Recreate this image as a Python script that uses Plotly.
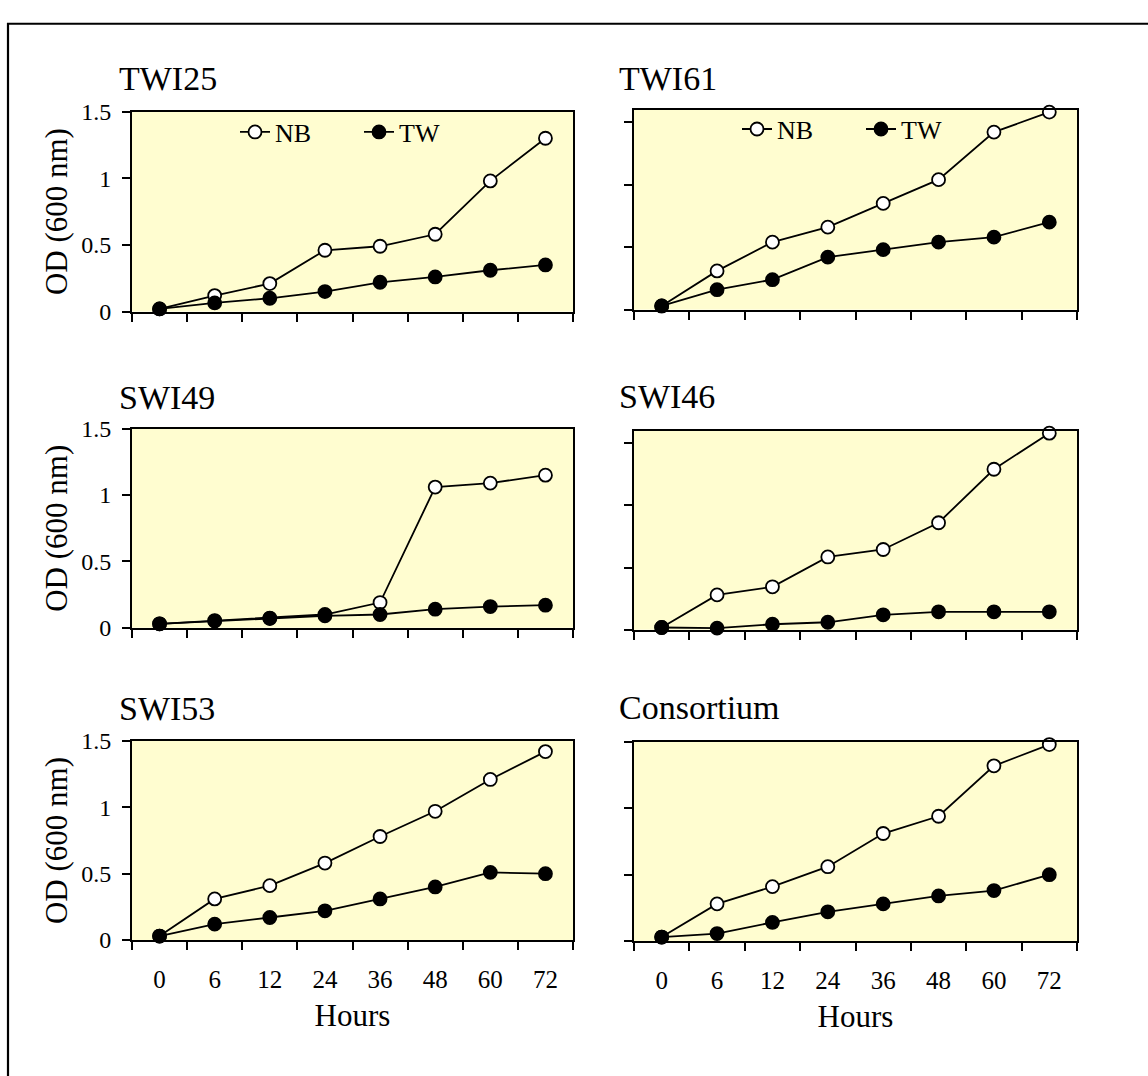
import plotly.graph_objects as go

# Sampling times (hours) shown as evenly spaced categories
hours = ["0", "6", "12", "24", "36", "48", "60", "72"]

panel_names = ["TWI25", "TWI61", "SWI49", "SWI46", "SWI53", "Consortium"]

# Optical density at 600 nm, nutrient broth (NB) vs. treated water (TW)
twi25_nb = [0.02, 0.12, 0.21, 0.46, 0.49, 0.58, 0.98, 1.30]
twi25_tw = [0.02, 0.065, 0.10, 0.15, 0.22, 0.26, 0.31, 0.35]

twi61_nb = [0.03, 0.31, 0.54, 0.66, 0.85, 1.04, 1.42, 1.58]
twi61_tw = [0.03, 0.16, 0.24, 0.42, 0.48, 0.54, 0.58, 0.70]

swi49_nb = [0.03, 0.054, 0.073, 0.10, 0.19, 1.06, 1.09, 1.15]
swi49_tw = [0.03, 0.05, 0.07, 0.09, 0.10, 0.14, 0.16, 0.17]

swi46_nb = [0.018, 0.28, 0.345, 0.585, 0.645, 0.86, 1.29, 1.58]
swi46_tw = [0.018, 0.013, 0.044, 0.06, 0.12, 0.144, 0.144, 0.144]

swi53_nb = [0.03, 0.31, 0.41, 0.58, 0.78, 0.97, 1.21, 1.42]
swi53_tw = [0.03, 0.12, 0.17, 0.22, 0.31, 0.40, 0.51, 0.50]

consortium_nb = [0.03, 0.28, 0.41, 0.56, 0.81, 0.94, 1.32, 1.48]
consortium_tw = [0.03, 0.056, 0.14, 0.22, 0.28, 0.34, 0.38, 0.50]

nb_series = [twi25_nb, twi61_nb, swi49_nb, swi46_nb, swi53_nb, consortium_nb]
tw_series = [twi25_tw, twi61_tw, swi49_tw, swi46_tw, swi53_tw, consortium_tw]

y_ticks = [0, 0.5, 1, 1.5]
y_tick_text = ["0", "0.5", "1", "1.5"]
y_max = [1.5, 1.6, 1.5, 1.6, 1.5, 1.5]

W, H = 1148, 1076
FONT = "Liberation Serif, Times New Roman, Times, serif"
PLOT_BG = "#FFFDD0"

# Pixel boxes of each plot area: (left, right, top, bottom)
boxes = [
    (132, 573, 101, 306), (634, 1077, 99, 304),
    (132, 573, 426, 630), (634, 1077, 428, 632),
    (132, 573, 746, 950), (634, 1077, 747, 951),
]
title_pos = [(117, 67), (617, 67), (117, 394), (617, 393), (117, 713), (617, 712)]

fig = go.Figure()
layout = dict(
    width=W, height=H,
    margin=dict(l=0, r=0, t=0, b=0),
    paper_bgcolor="white",
    plot_bgcolor=PLOT_BG,
    font=dict(family=FONT, color="black", size=25),
    annotations=[],
    shapes=[],
)

for i, name in enumerate(panel_names):
    n = i + 1
    xa = "x" if n == 1 else f"x{n}"
    ya = "y" if n == 1 else f"y{n}"
    left, right, top, bottom = boxes[i]
    is_left = i % 2 == 0
    is_bottom = i >= 4
    legend_id = {0: "legend", 1: "legend2"}.get(i)

    common = dict(x=hours, xaxis=xa, yaxis=ya, mode="lines+markers",
                  line=dict(color="black", width=1.8), cliponaxis=False)
    fig.add_trace(go.Scatter(
        y=nb_series[i], name="NB",
        marker=dict(symbol="circle", size=13, color="white",
                    line=dict(color="black", width=1.8)),
        showlegend=legend_id is not None,
        legend=legend_id or "legend", **common))
    fig.add_trace(go.Scatter(
        y=tw_series[i], name="TW",
        marker=dict(symbol="circle", size=13, color="black",
                    line=dict(color="black", width=1.8)),
        showlegend=legend_id is not None,
        legend=legend_id or "legend", **common))

    xkey = "xaxis" if n == 1 else f"xaxis{n}"
    ykey = "yaxis" if n == 1 else f"yaxis{n}"
    layout[xkey] = dict(
        domain=[left / W, right / W], anchor=ya,
        type="category", categoryorder="array", categoryarray=hours,
        range=[-0.5, 7.5], tickson="boundaries",
        ticks="outside", ticklen=8, tickwidth=1.5, tickcolor="black",
        showticklabels=is_bottom, tickfont=dict(size=25, family=FONT),
        ticklabelstandoff=16,
        showline=True, linecolor="black", linewidth=2, mirror=True,
        showgrid=False, zeroline=False, fixedrange=True,
        title=dict(text="Hours" if is_bottom else "",
                   font=dict(size=31, family=FONT), standoff=12),
    )
    layout[ykey] = dict(
        domain=[1 - bottom / H, 1 - top / H], anchor=xa,
        range=[0, y_max[i]],
        tickmode="array", tickvals=y_ticks, ticktext=y_tick_text,
        ticks="outside", ticklen=8, tickwidth=1.5, tickcolor="black",
        showticklabels=is_left, tickfont=dict(size=24, family=FONT),
        ticklabelstandoff=6,
        showline=True, linecolor="black", linewidth=2, mirror=True,
        showgrid=False, zeroline=False, fixedrange=True,
        title=dict(text="OD (600 nm)" if is_left else "",
                   font=dict(size=31, family=FONT), standoff=4),
    )
    tx, ty = title_pos[i]
    layout["annotations"].append(dict(
        text=name, xref="paper", yref="paper", x=tx / W, y=1 - ty / H,
        xanchor="left", yanchor="middle", showarrow=False,
        font=dict(size=34, family=FONT)))

legend_style = dict(orientation="h", bgcolor="rgba(0,0,0,0)", borderwidth=0,
                    font=dict(size=26, family=FONT), xanchor="left",
                    yanchor="middle", entrywidth=79, itemwidth=30,
                    xref="paper", yref="paper", tracegroupgap=0)
layout["legend"] = dict(x=235 / W, y=1 - 122 / H, **legend_style)
layout["legend2"] = dict(x=737 / W, y=1 - 119 / H, **legend_style)

# Outer frame around the whole figure
layout["shapes"].append(dict(
    type="rect", xref="paper", yref="paper",
    x0=8 / W, x1=1.05, y0=-0.05, y1=1 - 11 / H,
    line=dict(color="black", width=2.2), fillcolor="rgba(0,0,0,0)", layer="above"))

fig.update_layout(**layout)
fig.write_html("out.html")
